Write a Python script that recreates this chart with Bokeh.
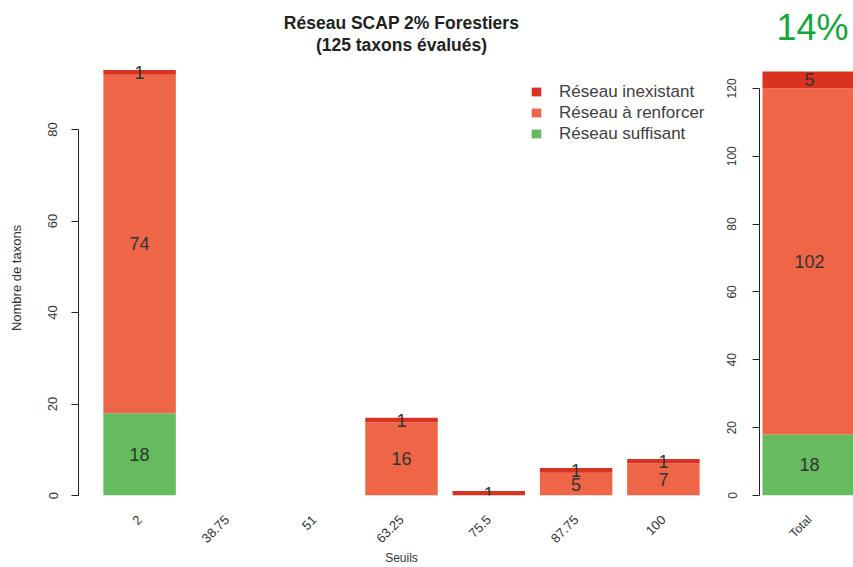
import math
import numpy as np
from bokeh.plotting import figure
from bokeh.models import (FactorRange, Range1d, Legend, LegendItem, ColumnDataSource,
                          FixedTicker, Label)
from bokeh.layouts import row, column
from bokeh.embed import file_html
from bokeh.resources import INLINE
from bokeh.core.properties import value

# ---- data ----
seuils = ["2", "38.75", "51", "63.25", "75.5", "87.75", "100"]
suffisant = [18, 0, 0, 0, 0, 0, 0]
renforcer = [74, 0, 0, 16, 0, 5, 7]
inexistant = [1, 0, 0, 1, 1, 1, 1]

total_labels = ["Total"]
total_suffisant = [18]
total_renforcer = [102]
total_inexistant = [5]

series_names = ["Réseau suffisant", "Réseau à renforcer", "Réseau inexistant"]
series_colors = ["#66bb5e", "#ee6547", "#d93220"]

left_ticks = [0, 20, 40, 60, 80]
right_ticks = [0, 20, 40, 60, 80, 100, 120]

title_lines = ["Réseau SCAP 2% Forestiers", "(125 taxons évalués)"]
pct_text = "14%"
y_label = "Nombre de taxons"
x_label = "Seuils"

FONT = "Liberation Sans"
TXT = "#333333"

LEFT_W, RIGHT_W, TOP_H, TOTAL_H = 724, 129, 60, 567


def seg_labels(xs, cols):
    lx, ly, lt = [], [], []
    bottom = np.zeros(len(xs))
    for col in cols:
        v = np.array(col, dtype=float)
        for i, x in enumerate(xs):
            if v[i] > 0:
                lx.append(x)
                ly.append(bottom[i] + v[i] / 2)
                lt.append(str(int(v[i])))
        bottom += v
    return lx, ly, lt


# ---- title band (x: fraction of the plot width, y: pixels from the top) ----
top = figure(x_range=Range1d(0, 1), y_range=Range1d(TOP_H, 0), width=LEFT_W, height=TOP_H,
             x_axis_type=None, y_axis_type=None, min_border=0, title=None,
             output_backend="svg", toolbar_location=None)
top.outline_line_color = None
top.grid.grid_line_color = None
top.text(x=[0.5, 0.5], y=[22, 44], text=title_lines, text_align="center",
         text_baseline="middle", text_font=value(FONT), text_font_size="17.5px",
         text_font_style="bold", text_color="#222222")

# ---- left panel ----
src = ColumnDataSource(dict(x=seuils, suf=suffisant, ren=renforcer, inex=inexistant))
p = figure(x_range=FactorRange(factors=seuils, range_padding=0.2, range_padding_units="absolute"),
           y_range=Range1d(0, 95.1), width=LEFT_W, height=TOTAL_H - TOP_H, title=None,
           min_border_left=78, min_border_right=0, min_border_top=0, min_border_bottom=72,
           output_backend="svg", toolbar_location=None)
rs = p.vbar_stack(["suf", "ren", "inex"], x="x", width=0.83, color=series_colors,
                  line_color=None, source=src)
lx, ly, lt = seg_labels(seuils, [suffisant, renforcer, inexistant])
p.text(x=lx, y=ly, text=lt, text_align="center", text_baseline="middle",
       text_font=value(FONT), text_font_size="18px", text_color=TXT)

p.xgrid.grid_line_color = None
p.ygrid.grid_line_color = None
p.outline_line_color = None

p.yaxis.bounds = (0, 80)
p.yaxis.ticker = FixedTicker(ticks=left_ticks)
p.yaxis.minor_tick_line_color = None
p.yaxis.major_tick_out = 7
p.yaxis.major_tick_in = 0
p.yaxis.axis_line_color = "#222222"
p.yaxis.major_tick_line_color = "#222222"
p.yaxis.major_label_orientation = "vertical"
p.yaxis.major_label_standoff = 14
p.yaxis.major_label_text_font = FONT
p.yaxis.major_label_text_font_size = "13px"
p.yaxis.major_label_text_color = TXT
p.yaxis.axis_label = y_label
p.yaxis.axis_label_text_font = FONT
p.yaxis.axis_label_text_font_size = "13px"
p.yaxis.axis_label_text_font_style = "normal"
p.yaxis.axis_label_text_color = TXT
p.yaxis.axis_label_standoff = 22

p.xaxis.axis_line_color = None
p.xaxis.major_tick_line_color = None
p.xaxis.minor_tick_line_color = None
p.xaxis.major_tick_out = 0
p.xaxis.major_tick_in = 0
p.xaxis.major_label_orientation = math.pi / 4
p.xaxis.major_label_text_font = FONT
p.xaxis.major_label_text_font_size = "13px"
p.xaxis.major_label_text_color = TXT
p.xaxis.major_label_standoff = 22
p.xaxis.axis_label = x_label
p.xaxis.axis_label_text_font = FONT
p.xaxis.axis_label_text_font_size = "12px"
p.xaxis.axis_label_text_font_style = "normal"
p.xaxis.axis_label_text_color = TXT
p.xaxis.axis_label_standoff = 1

legend = Legend(items=[LegendItem(label=series_names[i], renderers=[rs[i]]) for i in (2, 1, 0)],
                location=(452, 351), border_line_color=None, background_fill_alpha=0,
                label_text_font=FONT, label_text_font_size="17px", label_text_color="#404040",
                glyph_width=12, glyph_height=11, label_standoff=17, spacing=0,
                label_height=21, padding=0, margin=0)
p.add_layout(legend)

# ---- right panel (frame reaches the top of the page) ----
tx = list(range(len(total_labels)))
src2 = ColumnDataSource(dict(x=tx, suf=total_suffisant, ren=total_renforcer, inex=total_inexistant))
q = figure(x_range=Range1d(-0.532, 0.468), y_range=Range1d(0, 145.9), width=RIGHT_W,
           height=TOTAL_H, title=None,
           min_border_left=35, min_border_right=0, min_border_top=0, min_border_bottom=72,
           output_backend="svg", toolbar_location=None)
q.vbar_stack(["suf", "ren", "inex"], x="x", width=1.0, color=series_colors,
             line_color=None, source=src2)
tlx, tly, tlt = seg_labels(tx, [total_suffisant, total_renforcer, total_inexistant])
q.text(x=tlx, y=tly, text=tlt, text_align="center", text_baseline="middle",
       text_font=value(FONT), text_font_size="18px", text_color=TXT)
q.add_layout(Label(x=tx[0], y=138.0, x_offset=3, text=pct_text,
                   text_align="center", text_baseline="middle", text_font=FONT,
                   text_font_size="36px", text_color="#14a83c"))
q.xgrid.grid_line_color = None
q.ygrid.grid_line_color = None
q.outline_line_color = None

q.yaxis.bounds = (0, 120)
q.yaxis.ticker = FixedTicker(ticks=right_ticks)
q.yaxis.minor_tick_line_color = None
q.yaxis.major_tick_out = 7
q.yaxis.major_tick_in = 0
q.yaxis.axis_line_color = "#222222"
q.yaxis.major_tick_line_color = "#222222"
q.yaxis.major_label_orientation = "vertical"
q.yaxis.major_label_standoff = 16
q.yaxis.major_label_text_font = FONT
q.yaxis.major_label_text_font_size = "12px"
q.yaxis.major_label_text_color = TXT

q.xaxis.ticker = FixedTicker(ticks=tx)
q.xaxis.major_label_overrides = {i: lab for i, lab in zip(tx, total_labels)}
q.xaxis.axis_line_color = None
q.xaxis.major_tick_line_color = None
q.xaxis.minor_tick_line_color = None
q.xaxis.major_tick_out = 0
q.xaxis.major_label_orientation = math.pi / 4
q.xaxis.major_label_text_font = FONT
q.xaxis.major_label_text_font_size = "12px"
q.xaxis.major_label_text_color = TXT
q.xaxis.major_label_standoff = 22

layout = row(column(top, p), q)
open("out.html", "w").write(file_html(layout, INLINE))
